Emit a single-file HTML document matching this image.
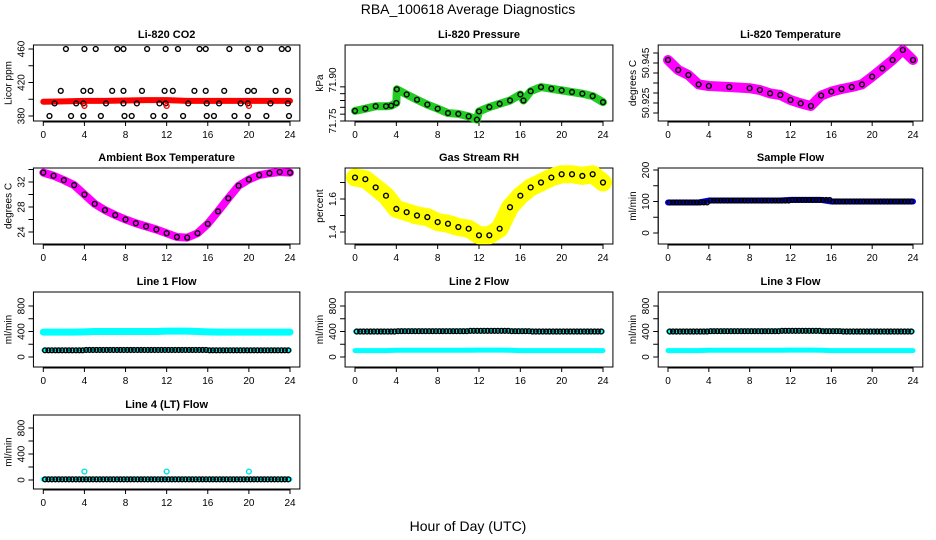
<!DOCTYPE html>
<html><head><meta charset="utf-8"><style>
html,body{margin:0;padding:0;background:#fff}
svg{display:block;font-family:"Liberation Sans",sans-serif}
</style></head><body>
<svg id="c" width="936" height="540" viewBox="0 0 936 540" xmlns="http://www.w3.org/2000/svg">
<text x="468" y="14" text-anchor="middle" font-size="14">RBA_100618  Average Diagnostics</text>
<text x="468" y="531" text-anchor="middle" font-size="14">Hour of Day (UTC)</text>
</svg>
<script>
// ---- data ----
const xTicks = [0,4,8,12,16,20,24];
const co2BandH = [0,2,4,6,8,10,12,14,16,18,20,22,24];
const co2BandV = [397,397.5,398,398,398.5,399,399,398,398,398,398,398,398];
const co2H460 = [2.2,4.0,5.1,7.2,7.8,10.1,11.9,13.1,15.2,15.8,18.1,19.9,21.1,23.2,23.8];
const co2H410 = [1.7,3.9,4.6,6.7,7.8,9.6,11.8,12.6,14.7,15.8,17.6,19.9,20.5,22.6,23.8];
const co2H395 = [1.1,3.2,3.9,6.1,7.8,9.1,11.3,11.9,14.1,15.9,17.1,19.2,19.9,22.1,23.8];
const co2H380 = [0.6,2.7,3.9,5.6,7.9,8.6,10.7,11.8,13.6,15.9,16.6,18.6,19.9,21.7,23.9];
const co2Red = [4,12,20];
const presH = [0,1,2,3,3.5,4,4.05,5,6,7,8,9,10,11,11.8,12,13,14,15,16,16.3,17,18,19,20,21,22,23,24];
const presV = [71.787,71.795,71.804,71.804,71.806,71.816,71.866,71.847,71.828,71.81,71.795,71.779,71.776,71.767,71.755,71.785,71.801,71.813,71.825,71.847,71.825,71.859,71.874,71.868,71.862,71.856,71.85,71.841,71.819];
const tempH = [0,1,2,3,4,6,8,9,10,11,12,13,14,15,16,17,18,19,20,21,22,23,24];
const tempV = [50.9465,50.9415,50.939,50.9343,50.9335,50.933,50.9324,50.9315,50.9298,50.929,50.9265,50.9248,50.9235,50.9287,50.9307,50.932,50.933,50.9343,50.9382,50.9423,50.9465,50.9515,50.9465];
const hourly = [0,1,2,3,4,5,6,7,8,9,10,11,12,13,14,15,16,17,18,19,20,21,22,23,24];
const ambV = [33.5,33,32.3,31.5,30,28.5,27.5,26.7,26,25.4,24.9,24.4,23.8,23.2,23.1,23.8,25.3,27.3,29.4,31.4,32.4,33.1,33.4,33.6,33.5];
const rhV = [1.73,1.72,1.67,1.62,1.54,1.52,1.50,1.49,1.46,1.45,1.43,1.42,1.38,1.38,1.42,1.55,1.62,1.67,1.70,1.73,1.75,1.75,1.74,1.75,1.70];
const sampleV = [97,97,97,97,103,103,103,103,103,103,103,103,105,105,105,105,100,100,100,100,100,100,100,100,100];
const line1Cyan = [390,390,390,390,395,400,400,400,400,400,400,400,405,405,405,400,395,390,390,390,390,390,390,390,390];
const line1Black = [105,105,105,105,110,110,110,110,110,110,110,110,110,110,110,110,105,105,105,105,105,105,105,105,105];
const line2Black = [400,400,400,400,405,405,405,405,405,405,405,410,410,410,410,405,405,400,400,400,400,400,400,400,400];
const line2Cyan = [100,100,100,100,105,105,105,105,105,105,105,105,108,108,108,105,100,100,100,100,100,100,100,100,100];
const line4Black = [10,10,10,10,10,10,10,10,10,10,10,10,10,10,10,10,10,10,10,10,10,10,10,10,10];
const line4Spikes = [4,12,20];
const line4SpikeV = [130,130,130];

// ---- layout ----
const NS='http://www.w3.org/2000/svg';
const svg=document.getElementById('c');
function mk(tag,attrs,parent){const e=document.createElementNS(NS,tag);for(const k in attrs)e.setAttribute(k,attrs[k]);(parent||svg).appendChild(e);return e;}
const cols=[{x0:43.3,x24:290},{x0:355,x24:603},{x0:668,x24:913}];
const rows=[{t:45,b:121},{t:168,b:244},{t:292,b:367},{t:415,b:489}];

function panel(o){
  const c=cols[o.col], r=rows[o.row];
  const sx=h=>c.x0+(c.x24-c.x0)*h/24;
  const k=(o.p2-o.p1)/(o.v2-o.v1);
  const sy=v=>o.p1+(v-o.v1)*k;
  const g=mk('g',{});
  
  
  const L=sx(-0.96), R=sx(24.96);
  const box=mk('rect',{x:L,y:r.t,width:R-L,height:r.b-r.t,fill:'none',stroke:'#000','stroke-width':1},g);
  
  
  const t=mk('text',{x:(L+R)/2,y:r.t-7,'text-anchor':'middle','font-size':11,'font-weight':'bold'},g);
  t.textContent=o.title;
  
  
  mk('line',{x1:sx(0),x2:sx(24),y1:r.b+1,y2:r.b+1,stroke:'#000'},g);
  xTicks.forEach(h=>{
    mk('line',{x1:sx(h),x2:sx(h),y1:r.b,y2:r.b+5,stroke:'#000'},g);
    const tl=mk('text',{x:sx(h),y:r.b+17,'text-anchor':'middle','font-size':10},g);
    tl.textContent=h;
    
    
  });
  const yt=o.yticks;
  mk('line',{x1:L,x2:L,y1:sy(yt[0]),y2:sy(yt[yt.length-1]),stroke:'#000'},g);
  yt.forEach(v=>{mk('line',{x1:L-5,x2:L,y1:sy(v),y2:sy(v),stroke:'#000'},g);});
  o.ylabels.forEach(v=>{
    const yy=sy(v);
    const tl=mk('text',{x:L-9,y:yy,'text-anchor':'middle','font-size':10,transform:`rotate(-90 ${L-9} ${yy})`},g);
    tl.textContent=o.fmt?o.fmt(v):v;
    
    
  });
  const ymid=(r.t+r.b)/2;
  const yl=mk('text',{x:L-22,y:ymid,'text-anchor':'middle','font-size':10,transform:`rotate(-90 ${L-22} ${ymid})`},g);
  yl.textContent=o.ylab;
  
  
  return {g,sx,sy};
}
function band(p,hs,vs,color,w,name){
  const pl=mk('polyline',{points:hs.map((h,i)=>p.sx(h)+','+p.sy(vs[i])).join(' '),fill:'none',stroke:color,'stroke-width':w,'stroke-linejoin':'round','stroke-linecap':'round'},p.g);
  
  
}
function pts(p,hs,vs,color,name){
  hs.forEach((h,i)=>{
    const v=Array.isArray(vs)?vs[i]:vs;
    const ci=mk('circle',{cx:p.sx(h),cy:p.sy(v),r:2.4,fill:'none',stroke:color,'stroke-width':1.4},p.g);
    
    
  });
}
function halfPts(p,vs,color,name){
  const hs=[],v2=[];
  vs.forEach((v,i)=>{hs.push(hourly[i]+0.5);v2.push(v);hs.push(hourly[i]+0.17);v2.push(v);hs.push(hourly[i]+0.83);v2.push(v);});
  pts(p,hs.filter(h=>h<=24),v2.filter((v,i)=>hs[i]<=24),color,name);
}

let p=panel({col:0,row:0,name:'co2-panel',title:'Li-820 CO2',ylab:'Licor ppm',v1:380,p1:116,v2:460,p2:49,yticks:[380,400,420,440,460],ylabels:[380,420,460]});
band(p,co2BandH,co2BandV,'#f00',6,'co2-band');
pts(p,co2H460,460,'#000','co2-point');
pts(p,co2H410,410,'#000','co2-point');
pts(p,co2H395,395,'#000','co2-point');
pts(p,co2H380,380,'#000','co2-point');
pts(p,co2Red,392,'#f00','co2-red-point');

p=panel({col:1,row:0,name:'pressure-panel',title:'Li-820 Pressure',ylab:'kPa',v1:71.75,p1:121,v2:71.9,p2:80,yticks:[71.75,71.775,71.8,71.825,71.85,71.875],ylabels:[71.75,71.9],fmt:v=>v.toFixed(2)});
band(p,presH,presV,'#22cc22',8,'pressure-band');
pts(p,presH,presV,'#000','pressure-point');

p=panel({col:2,row:0,name:'temperature-panel',title:'Li-820 Temperature',ylab:'degrees C',v1:50.92,p1:113,v2:50.95,p2:53,yticks:[50.92,50.925,50.93,50.935,50.94,50.945,50.95],ylabels:[50.925,50.945],fmt:v=>v.toFixed(3)});
band(p,tempH,tempV,'#ff00ff',10,'temperature-band');
pts(p,tempH,tempV,'#000','temperature-point');

p=panel({col:0,row:1,name:'ambient-panel',title:'Ambient Box Temperature',ylab:'degrees C',v1:24,p1:232,v2:32,p2:182,yticks:[24,26,28,30,32,34],ylabels:[24,28,32]});
band(p,hourly,ambV,'#ff00ff',8,'ambient-band');
pts(p,hourly,ambV,'#000','ambient-point');

p=panel({col:1,row:1,name:'rh-panel',title:'Gas Stream RH',ylab:'percent',v1:1.4,p1:232,v2:1.6,p2:199,yticks:[1.4,1.5,1.6,1.7],ylabels:[1.4,1.6],fmt:v=>v.toFixed(1)});
band(p,hourly,rhV,'#ffff00',18,'rh-band');
pts(p,hourly,rhV,'#000','rh-point');

p=panel({col:2,row:1,name:'sample-flow-panel',title:'Sample Flow',ylab:'ml/min',v1:0,p1:233,v2:200,p2:170,yticks:[0,50,100,150,200],ylabels:[0,100,200]});
band(p,hourly,sampleV,'#0000ff',6,'sample-band');
halfPts(p,sampleV,'#000','sample-point');

const flowTicks=[0,200,400,600,800], flowLabels=[0,400,800];
p=panel({col:0,row:2,name:'line1-panel',title:'Line 1 Flow',ylab:'ml/min',v1:0,p1:357,v2:800,p2:306,yticks:flowTicks,ylabels:flowLabels});
band(p,hourly,line1Cyan,'#00ffff',7,'line1-cyan-band');
band(p,hourly,line1Black,'#00ffff',4,'line1-cyan-low');
halfPts(p,line1Black,'#000','line1-point');
p=panel({col:1,row:2,name:'line2-panel',title:'Line 2 Flow',ylab:'ml/min',v1:0,p1:357,v2:800,p2:306,yticks:flowTicks,ylabels:flowLabels});
band(p,hourly,line2Cyan,'#00ffff',5,'line2-cyan-band');
band(p,hourly,line2Black,'#00ffff',4,'line2-cyan-high');
halfPts(p,line2Black,'#000','line2-point');
p=panel({col:2,row:2,name:'line3-panel',title:'Line 3 Flow',ylab:'ml/min',v1:0,p1:357,v2:800,p2:306,yticks:flowTicks,ylabels:flowLabels});
band(p,hourly,line2Cyan,'#00ffff',5,'line3-cyan-band');
band(p,hourly,line2Black,'#00ffff',4,'line3-cyan-high');
halfPts(p,line2Black,'#000','line3-point');
p=panel({col:0,row:3,name:'line4-panel',title:'Line 4 (LT) Flow',ylab:'ml/min',v1:0,p1:480,v2:800,p2:428,yticks:flowTicks,ylabels:flowLabels});
band(p,hourly,line4Black,'#00ffff',5,'line4-cyan-band');
halfPts(p,line4Black,'#000','line4-point');
pts(p,line4Spikes,line4SpikeV,'#00e5e5','line4-spike');
</script>
</body></html>
